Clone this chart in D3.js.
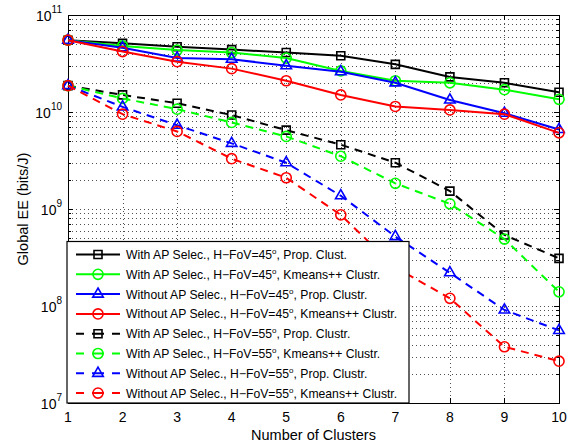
<!DOCTYPE html>
<html>
<head>
<meta charset="utf-8">
<script src="https://cdn.jsdelivr.net/npm/d3@7"></script>
<style>
  body { margin: 0; background: #fff; }
  text { font-family: "Liberation Sans", Arial, sans-serif; }
</style>
</head>
<body>
<svg></svg>
<script>
const width = 578
const height = 445

// Data
const clusters = [1, 2, 3, 4, 5, 6, 7, 8, 9, 10]

const withAP45Prop = [5.5e10, 5.1e10, 4.7e10, 4.4e10, 4.1e10, 3.8e10, 3.1e10, 2.3e10, 2.0e10, 1.6e10]
const withAP45Kmeans = [5.5e10, 4.8e10, 4.35e10, 4.1e10, 3.6e10, 2.65e10, 2.1e10, 2.0e10, 1.7e10, 1.35e10]
const withoutAP45Prop = [5.5e10, 4.6e10, 3.6e10, 3.5e10, 3.0e10, 2.6e10, 2.0e10, 1.33e10, 9.7e9, 6.6e9]
const withoutAP45Kmeans = [5.5e10, 4.2e10, 3.3e10, 2.8e10, 2.1e10, 1.5e10, 1.14e10, 1.05e10, 9.5e9, 6.1e9]
const withAP55Prop = [1.87e10, 1.5e10, 1.23e10, 9.3e9, 6.5e9, 4.6e9, 3.0e9, 1.53e9, 5.4e8, 3.1e8]
const withAP55Kmeans = [1.87e10, 1.38e10, 1.07e10, 7.8e9, 5.6e9, 3.5e9, 1.84e9, 1.13e9, 4.9e8, 1.4e8]
const withoutAP55Prop = [1.87e10, 1.13e10, 7.3e9, 4.75e9, 3.0e9, 1.37e9, 5.2e8, 2.2e8, 9.1e7, 5.6e7]
const withoutAP55Kmeans = [1.87e10, 9.5e9, 6.3e9, 3.3e9, 2.1e9, 8.7e8, 2.5e8, 1.2e8, 3.8e7, 2.7e7]

const seriesNames = [
    ["With AP Selec., H\u2212FoV=45", "Prop. Clust."],
    ["With AP Selec., H\u2212FoV=45", "Kmeans++ Clustr."],
    ["Without AP Selec., H\u2212FoV=45", "Prop. Clustr."],
    ["Without AP Selec., H\u2212FoV=45", "Kmeans++ Clustr."],
    ["With AP Selec., H\u2212FoV=55", "Prop. Clustr."],
    ["With AP Selec., H\u2212FoV=55", "Kmeans++ Clustr."],
    ["Without AP Selec., H\u2212FoV=55", "Prop. Clustr."],
    ["Without AP Selec., H\u2212FoV=55", "Kmeans++ Clustr."]
]
const seriesValues = [withAP45Prop, withAP45Kmeans, withoutAP45Prop, withoutAP45Kmeans,
    withAP55Prop, withAP55Kmeans, withoutAP55Prop, withoutAP55Kmeans]
const seriesColors = ["#000000", "#00ff00", "#0000ff", "#ff0000", "#000000", "#00ff00", "#0000ff", "#ff0000"]
const seriesMarkers = ["square", "circle", "triangle", "circle", "square", "circle", "triangle", "circle"]
const seriesDashed = [false, false, false, false, true, true, true, true]

const yExponents = [7, 8, 9, 10, 11]

// Layout
const margin = { top: 15, right: 19, bottom: 42, left: 68 }
const plotW = width - margin.left - margin.right
const plotH = height - margin.top - margin.bottom

const svg = d3.select("svg")
    .attr("width", width)
    .attr("height", height)

const g = svg.append("g")
    .attr("transform", `translate(${margin.left},${margin.top})`)

const x = d3.scaleLinear().domain([1, 10]).range([0, plotW])
const y = d3.scaleLog().domain([1e7, 1e11]).range([plotH, 0])

// minor log ticks
const minorTicks = []
yExponents.slice(0, -1).forEach(e => {
    for (let k = 2; k <= 9; k++) minorTicks.push(k * Math.pow(10, e))
})
const majorTicks = yExponents.map(e => Math.pow(10, e))

// Grid
const grid = g.append("g")
    .attr("stroke", "#222")
    .attr("stroke-width", 0.8)
    .attr("stroke-dasharray", "1,3")

grid.selectAll(".hgrid")
    .data(majorTicks.concat(minorTicks))
    .enter()
    .append("line")
    .attr("x1", 0)
    .attr("x2", plotW)
    .attr("y1", d => Math.round(y(d)) + 0.5)
    .attr("y2", d => Math.round(y(d)) + 0.5)

grid.selectAll(".vgrid")
    .data(clusters)
    .enter()
    .append("line")
    .attr("x1", d => Math.round(x(d)) + 0.5)
    .attr("x2", d => Math.round(x(d)) + 0.5)
    .attr("y1", 0)
    .attr("y2", plotH)

// Axes with inward ticks
const axisG = g.append("g").attr("stroke", "#000").attr("stroke-width", 1)

axisG.append("rect")
    .attr("x", 0.5)
    .attr("y", 0.5)
    .attr("width", plotW)
    .attr("height", plotH)
    .attr("fill", "none")

majorTicks.forEach(v => {
    const yy = Math.round(y(v)) + 0.5
    axisG.append("line").attr("x1", 0).attr("x2", 5).attr("y1", yy).attr("y2", yy)
    axisG.append("line").attr("x1", plotW - 5).attr("x2", plotW).attr("y1", yy).attr("y2", yy)
})
minorTicks.forEach(v => {
    const yy = Math.round(y(v)) + 0.5
    axisG.append("line").attr("x1", 0).attr("x2", 3).attr("y1", yy).attr("y2", yy)
    axisG.append("line").attr("x1", plotW - 3).attr("x2", plotW).attr("y1", yy).attr("y2", yy)
})
clusters.forEach(v => {
    const xx = Math.round(x(v)) + 0.5
    axisG.append("line").attr("x1", xx).attr("x2", xx).attr("y1", plotH).attr("y2", plotH - 5)
    axisG.append("line").attr("x1", xx).attr("x2", xx).attr("y1", 0).attr("y2", 5)
})

// Tick labels
g.selectAll(".xlab")
    .data(clusters)
    .enter()
    .append("text")
    .attr("x", d => x(d))
    .attr("y", plotH + 19)
    .attr("text-anchor", "middle")
    .attr("font-size", 14)
    .text(d => d)

const ylab = g.selectAll(".ylab")
    .data(yExponents)
    .enter()
    .append("text")
    .attr("x", -6)
    .attr("y", e => y(Math.pow(10, e)) + 6)
    .attr("text-anchor", "end")
    .attr("font-size", 14)

ylab.append("tspan").text("10")
ylab.append("tspan")
    .attr("dy", -8)
    .attr("font-size", 10)
    .text(e => e)

// Axis titles
svg.append("text")
    .attr("x", margin.left + plotW / 2)
    .attr("y", 440)
    .attr("text-anchor", "middle")
    .attr("font-size", 14.5)
    .text("Number of Clusters")

svg.append("text")
    .attr("transform", `translate(28,${margin.top + plotH / 2}) rotate(-90)`)
    .attr("text-anchor", "middle")
    .attr("font-size", 14.5)
    .text("Global EE (bits/J)")

// Markers
function markerPath(kind) {
    if (kind == "square") return d3.symbol(d3.symbolSquare, 64)()
    if (kind == "triangle") return d3.symbol(d3.symbolTriangle, 48)()
    return d3.symbol(d3.symbolCircle, 80)()
}

const line = d3.line()
    .x((d, i) => x(clusters[i]))
    .y(d => y(d))

const plot = g.append("g")

seriesValues.forEach((vals, s) => {
    plot.append("path")
        .datum(vals)
        .attr("d", line)
        .attr("fill", "none")
        .attr("stroke", seriesColors[s])
        .attr("stroke-width", 2)
        .attr("stroke-dasharray", seriesDashed[s] ? "8,6" : null)

    plot.selectAll(null)
        .data(vals)
        .enter()
        .append("path")
        .attr("d", markerPath(seriesMarkers[s]))
        .attr("transform", (d, i) => `translate(${x(clusters[i])},${y(d)})`)
        .attr("fill", "none")
        .attr("stroke", seriesColors[s])
        .attr("stroke-width", 1.6)
})

// Legend
const legend = svg.append("g")
    .attr("transform", "translate(67,241.5)")

legend.append("rect")
    .attr("x", 0)
    .attr("y", 0)
    .attr("width", 342)
    .attr("height", 161.5)
    .attr("fill", "#fff")
    .attr("stroke", "#000")
    .attr("stroke-width", 1.2)

const rows = legend.selectAll(".row")
    .data(seriesNames)
    .enter()
    .append("g")
    .attr("transform", (d, i) => `translate(0,${13 + i * 19.8})`)

rows.append("line")
    .attr("x1", 9)
    .attr("x2", 53)
    .attr("y1", 0)
    .attr("y2", 0)
    .attr("stroke", (d, i) => seriesColors[i])
    .attr("stroke-width", 2)
    .attr("stroke-dasharray", (d, i) => seriesDashed[i] ? "8,8,12,8,8" : null)

rows.append("path")
    .attr("d", (d, i) => markerPath(seriesMarkers[i]))
    .attr("transform", "translate(31,0)")
    .attr("fill", "none")
    .attr("stroke", (d, i) => seriesColors[i])
    .attr("stroke-width", 1.6)

const rowText = rows.append("text")
    .attr("x", 59)
    .attr("y", 4.5)
    .attr("font-size", 12.2)

rowText.append("tspan").text(d => d[0])
rowText.append("tspan").attr("dy", -5).attr("font-size", 8).text("o")
rowText.append("tspan").attr("dy", 5).text(d => ", " + d[1])
</script>
</body>
</html>
